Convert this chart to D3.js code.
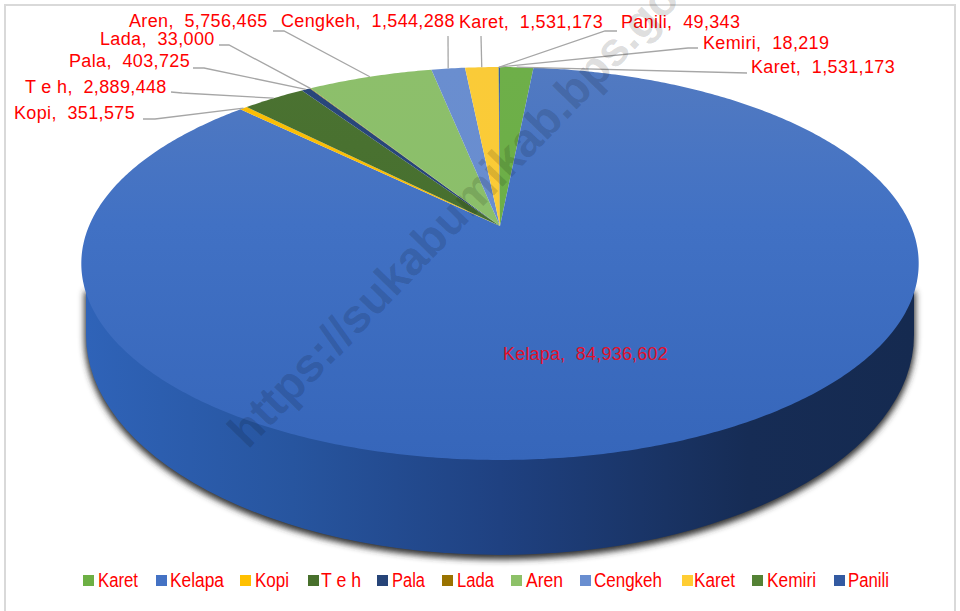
<!DOCTYPE html>
<html>
<head>
<meta charset="utf-8">
<script src="https://cdn.jsdelivr.net/npm/d3@7/dist/d3.min.js"></script>
<style>
    html, body { margin: 0; padding: 0; background: #fff; }
    svg { display: block; }
    text { font-family: 'Liberation Sans', Arial, sans-serif; white-space: pre; }
</style>
</head>
<body>
<div id="chart"></div>
<script>
const categories = ['Karet', 'Kelapa', 'Kopi', 'T e h', 'Pala', 'Lada', 'Aren', 'Cengkeh', 'Karet', 'Kemiri', 'Panili']
const values = [1531173, 84936602, 351575, 2889448, 403725, 33000, 5756465, 1544288, 1531173, 18219, 49343]
const sliceColors = ['#6db044', '#4472c4', '#ffc000', '#48702c', '#264478', '#997300', '#8dc168', '#698ed0', '#ffcd33', '#548235', '#335aa1']

// label text start, baseline, then the elbow of its leader line (from label to slice)
const labelX = [751, 503, 14, 25, 69, 100, 129, 281, 459, 703, 621]
const labelY = [73, 360, 119, 93, 67, 45, 27, 27, 28, 49, 28]
const leaders = [
    [[747, 73]],
    null,
    [[143, 119], [155, 119]],
    [[171, 92], [182, 93]],
    [[193, 68], [204, 68]],
    [[219, 45], [229, 45]],
    [[273, 31], [284, 31]],
    [[448, 36]],
    [[481, 36]],
    [[698, 48], [688, 48]],
    [[617, 31], [605, 31]],
]

// legend layout
const legendMarkerX = [83, 156, 240, 308, 377, 442, 511, 580, 682, 752, 834]
const legendTextX = [98, 170, 255, 321, 392, 457, 526, 594, 694, 767, 848]
const legendTextW = [40, 54, 34, 40, 33, 37, 37, 68, 41, 49, 41]

const width = 960
const height = 611
const cx = 500
const apexY = 226
const k = 411
const s = 189.3
const c = -0.1908

// unit circle to the perspective view of the pie top
const project = (angle) => {
    const x = Math.sin(angle)
    const y = -Math.cos(angle)
    const w = 1 + c * y
    return [cx + (k * x) / w, apexY + (s * y) / w]
}

const color = d3.scaleOrdinal().domain(d3.range(values.length)).range(sliceColors)
const pie = d3.pie().sort(null).value((d) => d)
const arcs = pie(values)
const line = d3.line()

const svg = d3
    .select('#chart')
    .append('svg')
    .attr('width', width)
    .attr('height', height)

const defs = svg.append('defs')

defs.append('filter')
    .attr('id', 'shadow-blur')
    .attr('x', '-10%')
    .attr('y', '-10%')
    .attr('width', '120%')
    .attr('height', '120%')
    .append('feGaussianBlur')
    .attr('stdDeviation', 3)

const sideGradient = defs
    .append('linearGradient')
    .attr('id', 'side-gradient')
    .attr('gradientUnits', 'userSpaceOnUse')
    .attr('x1', 86)
    .attr('x2', 914)
    .attr('y1', 0)
    .attr('y2', 0)

sideGradient
    .selectAll('stop')
    .data([
        [0, '#2f63b8'],
        [0.25, '#27559f'],
        [0.5, '#1f4181'],
        [0.8, '#162c55'],
        [1, '#152a50'],
    ])
    .enter()
    .append('stop')
    .attr('offset', (d) => d[0])
    .attr('stop-color', (d) => d[1])

// light at the back of the pie, deeper towards the front
arcs.forEach((d, i) => {
    const base = color(i)
    const g = defs
        .append('linearGradient')
        .attr('id', `slice-${i}`)
        .attr('gradientUnits', 'userSpaceOnUse')
        .attr('x1', 0)
        .attr('x2', 0)
        .attr('y1', 67)
        .attr('y2', 460)
    g.append('stop')
        .attr('offset', 0)
        .attr('stop-color', d3.interpolateRgb(base, '#8a9ab5')(i === 1 ? 0.2 : 0.04))
    g.append('stop')
        .attr('offset', 0.4)
        .attr('stop-color', d3.interpolateRgb(base, '#2a66c8')(i === 1 ? 0.12 : 0.02))
    g.append('stop')
        .attr('offset', 1)
        .attr('stop-color', d3.interpolateRgb(base, '#1c4fa8')(0.35))
})

// Frame
svg.append('path')
    .attr('d', `M5 ${height}V5H955V${height}`)
    .attr('fill', 'none')
    .attr('stroke', '#d9d9d9')
    .attr('stroke-width', 2)

// Side wall and its shadow
const sidePath = `M86 290V335A414 220 0 0 0 914 335V290Z`

svg.append('path')
    .attr('d', sidePath)
    .attr('fill', '#333')
    .attr('stroke', '#333')
    .attr('stroke-width', 3)
    .attr('transform', 'translate(0, 3)')
    .attr('filter', 'url(#shadow-blur)')

svg.append('path').attr('d', sidePath).attr('fill', 'url(#side-gradient)')

// Top face
const slicePath = (d) => {
    const steps = Math.max(2, Math.ceil((d.endAngle - d.startAngle) / 0.01))
    const rim = d3
        .range(steps + 1)
        .map((j) =>
            project(d.startAngle + ((d.endAngle - d.startAngle) * j) / steps)
        )
    return `${line([[cx, apexY], ...rim])}Z`
}

svg.append('g')
    .attr('class', 'slices')
    .selectAll('path')
    .data(arcs)
    .enter()
    .append('path')
    .attr('d', slicePath)
    .attr('fill', (d, i) => `url(#slice-${i})`)

// Leader lines
svg.append('g')
    .attr('class', 'leaders')
    .selectAll('path')
    .data(arcs.filter((d, i) => leaders[i]))
    .enter()
    .append('path')
    .attr('d', (d) =>
        line([...leaders[d.index], project((d.startAngle + d.endAngle) / 2)])
    )
    .attr('fill', 'none')
    .attr('stroke', '#a6a6a6')
    .attr('stroke-width', 1.3)

// Data labels
const formatValue = d3.format(',')

svg.append('g')
    .attr('class', 'labels')
    .selectAll('text')
    .data(values)
    .enter()
    .append('text')
    .attr('x', (d, i) => labelX[i])
    .attr('y', (d, i) => labelY[i])
    .attr('fill', (d, i) => (leaders[i] ? '#ff0000' : '#e3102a'))
    .style('font-size', '18px')
    .style('letter-spacing', (d, i) => (leaders[i] ? '0.35px' : '0.2px'))
    .text((d, i) => `${categories[i]},  ${formatValue(d)}`)

// Legend
const legend = svg
    .append('g')
    .attr('class', 'legend')
    .selectAll('g')
    .data(categories)
    .enter()
    .append('g')

legend
    .append('rect')
    .attr('x', (d, i) => legendMarkerX[i])
    .attr('y', 575)
    .attr('width', 11)
    .attr('height', 11)
    .attr('fill', (d, i) => color(i))

legend
    .append('text')
    .attr('x', (d, i) => legendTextX[i])
    .attr('y', 587)
    .attr('textLength', (d, i) => legendTextW[i])
    .attr('lengthAdjust', 'spacingAndGlyphs')
    .attr('fill', '#ff0000')
    .style('font-size', '20px')
    .text((d) => d)

// Watermark
svg.append('text')
    .attr('transform', 'translate(248, 450) rotate(-46)')
    .attr('fill', '#000')
    .attr('fill-opacity', 0.14)
    .style('font-size', '47px')
    .style('font-weight', 'bold')
    .text('https://sukabumikab.bps.go.id')
</script>
</body>
</html>
